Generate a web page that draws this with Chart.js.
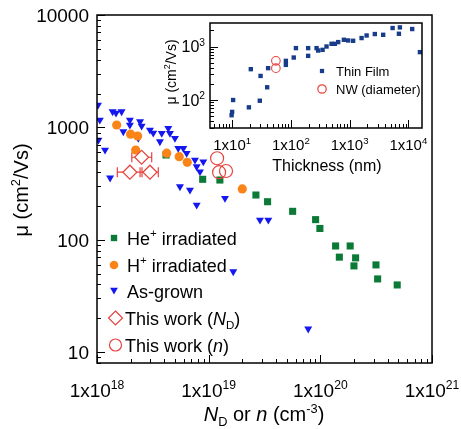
<!DOCTYPE html>
<html>
<head>
<meta charset="utf-8">
<script src="https://cdn.jsdelivr.net/npm/chart.js@4.4.1/dist/chart.umd.min.js"></script>
<style>
  html, body { margin: 0; padding: 0; background: #fff; }
  #wrap  { position: relative; width: 461px; height: 429px; }
  #main  { position: absolute; left: 0; top: 0; }
  #inset { position: absolute; left: 150px; top: 0; }
</style>
</head>
<body>
<div id="wrap">
  <canvas id="main" width="461" height="429"></canvas>
  <canvas id="inset" width="300" height="180"></canvas>
</div>
<script>
// ─── Data: main panel (mobility vs N_D or n) ──────────────────────────────────

const heX = [4.15e18, 8.84e18, 1.26e19, 2.65e19, 3.37e19, 5.65e19, 9.07e19, 9.91e19,
             1.37e20, 1.85e20, 1.48e20, 2.07e20, 2.00e20, 3.15e20, 3.26e20, 4.88e20];
const heY = [568, 345, 340, 250, 218, 179, 151, 126, 88, 88, 70, 69, 58.5, 59.7, 44.8, 39.6];

const hX = [1.50e18, 2.00e18, 2.31e18, 2.22e18, 4.21e18, 5.45e18, 6.43e18, 2.00e19];
const hY = [1050, 869, 838, 629, 589, 548, 489, 283];

const asX = [1.02e18, 1.06e18, 1.03e18, 1.18e18, 1.31e18, 1.38e18, 1.48e18, 1.66e18, 1.72e18,
             1.97e18, 1.97e18, 2.34e18, 2.43e18, 2.51e18, 2.98e18, 3.19e18, 3.66e18, 3.80e18,
             4.35e18, 4.50e18, 4.99e18, 5.34e18, 5.93e18, 6.35e18, 7.54e18, 7.81e18, 8.95e18,
             8.36e18, 5.53e18, 6.80e18, 7.81e18, 1.40e19, 2.88e19, 3.42e19, 1.66e19, 7.79e19];
const asY = [1580, 1163, 773, 629, 355, 1380, 1343, 1380, 916,
             1163, 1050, 800, 1124, 1029, 948, 891, 746, 887,
             982, 887, 800, 652, 652, 589, 513, 447, 495,
             403, 297, 277, 204, 234, 150, 150, 52, 16.1];

const ndX    = [2.51e18, 1.97e18, 2.98e18];
const ndY    = [542, 399, 399];
const ndXLow = [2.05e18, 1.52e18, 2.43e18];
const ndXHi  = [3.09e18, 2.53e18, 3.54e18];

const nX = [1.19e19, 1.24e19, 1.43e19];
const nY = [531, 399, 409];

const mainXTicks = [1e18, 1e19, 1e20, 1e21];
const mainXExp   = ['18', '19', '20', '21'];
const mainYTicks = [10, 100, 1000, 10000];

// ─── Data: inset (mobility vs thickness) ──────────────────────────────────────

const tfX = [9.8, 10, 10.4, 19.3, 20.8, 29.6, 30.5, 39.5, 41, 82.2, 82.2, 112, 122, 197, 197,
             274, 292, 347, 405, 493, 562, 640, 800, 946, 1150, 1600, 1950, 2690, 3730,
             5400, 7190, 6920, 11640, 15750];
const tfY = [52, 60, 100, 73, 377, 97, 282, 173, 394, 539, 454, 622, 933, 933, 669,
             933, 841, 866, 1000, 1123, 1123, 1209, 1336, 1297, 1279, 1438, 1607, 1710, 1656,
             2215, 2275, 1730, 2120, 785];

const nwX = [55.6, 55.6];
const nwY = [539, 394];

const insetXTicks = [10, 100, 1000, 10000];
const insetXExp   = ['1', '2', '3', '4'];
const insetYTicks = [100, 1000];
const insetYExp   = ['2', '3'];

// ─── Style ────────────────────────────────────────────────────────────────────

const GREEN  = '#0a7a36';
const ORANGE = '#fa8418';
const BLUE   = '#1418ee';
const RED    = '#e6433e';
const NAVY   = '#173c8a';
const FONT   = '"Liberation Sans", Arial, Helvetica, sans-serif';

const pts = (xs, ys) => xs.map((x, i) => ({ x, y: ys[i] }));

// ─── Helpers ──────────────────────────────────────────────────────────────────

function logTicks(min, max) {
  const out = [];
  for (let e = Math.floor(Math.log10(min)); e <= Math.ceil(Math.log10(max)); e++) {
    for (let k = 1; k <= 9; k++) {
      const v = k * Math.pow(10, e);
      if (v >= min * 0.999999 && v <= max * 1.000001) out.push({ v, major: k === 1 });
    }
  }
  return out;
}

// parts: [text, kind] with kind '' | 'i' | 'sup' | 'sub'
function drawRich(ctx, parts, x, y, size, align) {
  const segs = parts.map(([t, k]) => {
    const small = k === 'sup' || k === 'sub';
    const font  = (k === 'i' ? 'italic ' : '') + (small ? size * 0.64 : size) + 'px ' + FONT;
    ctx.font = font;
    const dy = k === 'sup' ? -size * 0.4 : k === 'sub' ? size * 0.26 : 0;
    return { t, font, dy, w: ctx.measureText(t).width };
  });
  const total = segs.reduce((s, g) => s + g.w, 0);
  let cx = align === 'center' ? x - total / 2 : align === 'right' ? x - total : x;
  ctx.textAlign = 'left';
  ctx.textBaseline = 'alphabetic';
  segs.forEach(g => { ctx.font = g.font; ctx.fillText(g.t, cx, y + g.dy); cx += g.w; });
}

function marker(ctx, style, x, y, r, fill, stroke) {
  ctx.beginPath();
  if (style === 'rect') {
    const s = r * Math.SQRT1_2;
    ctx.rect(x - s, y - s, 2 * s, 2 * s);
  } else if (style === 'circle') {
    ctx.arc(x, y, r, 0, Math.PI * 2);
  } else if (style === 'tri') {
    ctx.moveTo(x, y + r);
    ctx.lineTo(x - r * 0.866, y - r * 0.5);
    ctx.lineTo(x + r * 0.866, y - r * 0.5);
    ctx.closePath();
  } else if (style === 'diamond') {
    ctx.moveTo(x, y - r); ctx.lineTo(x + r, y); ctx.lineTo(x, y + r); ctx.lineTo(x - r, y);
    ctx.closePath();
  }
  if (fill)   { ctx.fillStyle = fill; ctx.fill(); }
  if (stroke) { ctx.strokeStyle = stroke; ctx.lineWidth = 1.2; ctx.stroke(); }
}

function frameAndTicks(ctx, a, xs, ys, majorLen, minorLen) {
  ctx.strokeStyle = '#000';
  ctx.lineWidth = 1.5;
  ctx.strokeRect(a.left, a.top, a.right - a.left, a.bottom - a.top);
  ctx.lineWidth = 1;
  ctx.beginPath();
  logTicks(xs.min, xs.max).forEach(t => {
    const px = Math.round(xs.getPixelForValue(t.v)) + 0.5;
    ctx.moveTo(px, a.bottom);
    ctx.lineTo(px, a.bottom - (t.major ? majorLen : minorLen));
  });
  logTicks(ys.min, ys.max).forEach(t => {
    const py = Math.round(ys.getPixelForValue(t.v)) + 0.5;
    ctx.moveTo(a.left, py);
    ctx.lineTo(a.left + (t.major ? majorLen : minorLen), py);
  });
  ctx.stroke();
}

// ─── Main chart ───────────────────────────────────────────────────────────────

const mainDecor = {
  id: 'mainDecor',
  beforeDatasetsDraw(chart) {
    const { ctx, scales: { x, y } } = chart;
    ctx.save();
    ctx.strokeStyle = RED;
    ctx.lineWidth = 1.2;
    ctx.beginPath();
    ndX.forEach((_, i) => {
      const x0 = x.getPixelForValue(ndXLow[i]);
      const x1 = x.getPixelForValue(ndXHi[i]);
      const py = y.getPixelForValue(ndY[i]);
      ctx.moveTo(x0, py); ctx.lineTo(x1, py);
      ctx.moveTo(x0, py - 5); ctx.lineTo(x0, py + 5);
      ctx.moveTo(x1, py - 5); ctx.lineTo(x1, py + 5);
    });
    ctx.stroke();
    ctx.restore();
  },
  afterDraw(chart) {
    const { ctx, chartArea: a, scales: { x, y } } = chart;
    ctx.save();
    frameAndTicks(ctx, a, x, y, 8, 4);
    ctx.fillStyle = '#000';

    mainYTicks.forEach(v => {
      ctx.font = '19px ' + FONT;
      ctx.textAlign = 'right';
      ctx.textBaseline = 'alphabetic';
      ctx.fillText(String(v), 89, y.getPixelForValue(v) + 7);
    });
    mainXTicks.forEach((v, i) => {
      drawRich(ctx, [['1x10', ''], [mainXExp[i], 'sup']], x.getPixelForValue(v), 397, 19, 'center');
    });

    drawRich(ctx, [['N', 'i'], ['D', 'sub'], [' or ', ''], ['n', 'i'], [' (cm', ''], ['-3', 'sup'], [')', '']],
             264, 421, 20, 'center');

    ctx.save();
    ctx.translate(28, 190);
    ctx.rotate(-Math.PI / 2);
    drawRich(ctx, [['\u03bc (cm', ''], ['2', 'sup'], ['/Vs)', '']], 0, 0, 20, 'center');
    ctx.restore();

    // legend
    const rows = [
      { y: 238, m: () => marker(ctx, 'rect', 114, 238, 4.5, GREEN), parts: [['He', ''], ['+', 'sup'], [' irradiated', '']], tx: 127 },
      { y: 265, m: () => marker(ctx, 'circle', 114, 265, 4.3, ORANGE), parts: [['H', ''], ['+', 'sup'], [' irradiated', '']], tx: 127 },
      { y: 291, m: () => marker(ctx, 'tri', 114, 290, 4.5, BLUE), parts: [['As-grown', '']], tx: 127 },
      { y: 318, m: () => marker(ctx, 'diamond', 115.5, 318, 7, null, RED), parts: [['This work (', ''], ['N', 'i'], ['D', 'sub'], [')', '']], tx: 125 },
      { y: 345, m: () => marker(ctx, 'circle', 115.5, 345, 6, null, RED), parts: [['This work (', ''], ['n', 'i'], [')', '']], tx: 125 },
    ];
    rows.forEach(r => {
      r.m();
      ctx.fillStyle = '#000';
      drawRich(ctx, r.parts, r.tx, r.y + 6.5, 18, 'left');
    });
    ctx.restore();
  },
};

new Chart(document.getElementById('main'), {
  type: 'scatter',
  data: {
    datasets: [
      { label: 'This work (n)', data: pts(nX, nY), pointStyle: 'circle', pointRadius: 6.5,
        backgroundColor: 'rgba(0,0,0,0)', borderColor: RED, borderWidth: 1.2 },
      { label: 'This work (ND)', data: pts(ndX, ndY), pointStyle: 'rectRot', pointRadius: 7,
        backgroundColor: '#fff', borderColor: RED, borderWidth: 1.2 },
      { label: 'H+ irradiated', data: pts(hX, hY), pointStyle: 'circle', pointRadius: 4.6,
        backgroundColor: ORANGE, borderWidth: 0 },
      { label: 'He+ irradiated', data: pts(heX, heY), pointStyle: 'rect', pointRadius: 5,
        backgroundColor: GREEN, borderWidth: 0 },
      { label: 'As-grown', data: pts(asX, asY), pointStyle: 'triangle', pointRadius: 4.6, rotation: 180,
        backgroundColor: BLUE, borderWidth: 0 },
    ],
  },
  options: {
    responsive: false,
    animation: false,
    events: [],
    layout: { padding: { left: 0, top: 15, right: 29, bottom: 0 } },
    plugins: { legend: { display: false }, tooltip: { enabled: false } },
    scales: {
      x: {
        type: 'logarithmic', min: 1e18, max: 1e21,
        ticks: { display: false }, grid: { display: false }, border: { display: false },
        afterFit: s => { s.height = 66; },
      },
      y: {
        type: 'logarithmic', min: 8, max: 10000,
        ticks: { display: false }, grid: { display: false }, border: { display: false },
        afterFit: s => { s.width = 97; },
      },
    },
  },
  plugins: [mainDecor],
});

// ─── Inset chart ──────────────────────────────────────────────────────────────

const insetDecor = {
  id: 'insetDecor',
  beforeDraw(chart) {
    const { ctx, chartArea: a } = chart;
    ctx.save();
    ctx.fillStyle = '#fff';
    ctx.fillRect(a.left, a.top, a.right - a.left, a.bottom - a.top);
    ctx.restore();
  },
  afterDraw(chart) {
    const { ctx, chartArea: a, scales: { x, y } } = chart;
    ctx.save();
    frameAndTicks(ctx, a, x, y, 8, 4);
    ctx.fillStyle = '#000';

    insetXTicks.forEach((v, i) => {
      drawRich(ctx, [['1x10', ''], [insetXExp[i], 'sup']], x.getPixelForValue(v), 150, 15, 'center');
    });
    insetYTicks.forEach((v, i) => {
      drawRich(ctx, [['10', ''], [insetYExp[i], 'sup']], 55, y.getPixelForValue(v) + 5.5, 16, 'right');
    });

    ctx.font = '16px ' + FONT;
    ctx.textAlign = 'center';
    ctx.fillText('Thickness (nm)', 177, 171);

    ctx.save();
    ctx.translate(26, 72);
    ctx.rotate(-Math.PI / 2);
    drawRich(ctx, [['\u03bc (cm', ''], ['2', 'sup'], ['/Vs)', '']], 0, 0, 14, 'center');
    ctx.restore();

    marker(ctx, 'rect', 172, 71, 3, NAVY);
    marker(ctx, 'circle', 172, 89, 4.2, null, RED);
    ctx.fillStyle = '#000';
    drawRich(ctx, [['Thin Film', '']], 186, 75.5, 13, 'left');
    drawRich(ctx, [['NW (diameter)', '']], 186, 93.5, 13, 'left');
    ctx.restore();
  },
};

new Chart(document.getElementById('inset'), {
  type: 'scatter',
  data: {
    datasets: [
      { label: 'NW (diameter)', data: pts(nwX, nwY), pointStyle: 'circle', pointRadius: 4.3,
        backgroundColor: 'rgba(0,0,0,0)', borderColor: RED, borderWidth: 1.1 },
      { label: 'Thin Film', data: pts(tfX, tfY), pointStyle: 'rect', pointRadius: 3.1,
        backgroundColor: NAVY, borderWidth: 0 },
    ],
  },
  options: {
    responsive: false,
    animation: false,
    events: [],
    layout: { padding: { left: 0, top: 23, right: 28, bottom: 0 } },
    plugins: { legend: { display: false }, tooltip: { enabled: false } },
    scales: {
      x: {
        type: 'logarithmic', min: 4.2, max: 17100,
        ticks: { display: false }, grid: { display: false }, border: { display: false },
        afterFit: s => { s.height = 52; },
      },
      y: {
        type: 'logarithmic', min: 30, max: 2750,
        ticks: { display: false }, grid: { display: false }, border: { display: false },
        afterFit: s => { s.width = 60; },
      },
    },
  },
  plugins: [insetDecor],
});
</script>
</body>
</html>
